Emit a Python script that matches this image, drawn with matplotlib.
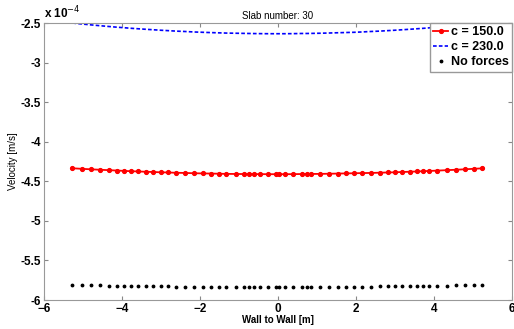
import matplotlib.pyplot as plt
from matplotlib.ticker import FuncFormatter

plt.rcParams["font.family"] = ["Liberation Sans", "DejaVu Sans"]

# positions across the slab (m)
x_pos = [-5.27, -5.03, -4.80, -4.56, -4.33, -4.12, -3.95, -3.78, -3.60, -3.39,
         -3.20, -3.01, -2.82, -2.62, -2.38, -2.15, -1.93, -1.71, -1.51, -1.32,
         -1.08, -0.86, -0.74, -0.62, -0.46, -0.25, -0.05, 0.03, 0.18, 0.40,
         0.61, 0.74, 0.86, 1.08, 1.32, 1.53, 1.74, 1.96, 2.15, 2.38,
         2.62, 2.82, 3.00, 3.19, 3.38, 3.58, 3.73, 3.88, 4.07, 4.33,
         4.56, 4.79, 5.02, 5.24]

# velocities in units of 1e-4 m/s
v_c150 = [-4.335, -4.342, -4.348, -4.354, -4.359, -4.364, -4.368, -4.372, -4.375, -4.379,
          -4.382, -4.386, -4.388, -4.392, -4.394, -4.398, -4.400, -4.402, -4.404, -4.406,
          -4.407, -4.408, -4.408, -4.409, -4.409, -4.410, -4.410, -4.410, -4.410, -4.409,
          -4.408, -4.408, -4.407, -4.406, -4.404, -4.402, -4.400, -4.398, -4.396, -4.394,
          -4.391, -4.388, -4.386, -4.382, -4.379, -4.375, -4.372, -4.369, -4.365, -4.359,
          -4.354, -4.348, -4.342, -4.336]

v_c230 = [-2.500, -2.512, -2.523, -2.534, -2.544, -2.553, -2.559, -2.566, -2.572, -2.579,
          -2.585, -2.591, -2.596, -2.602, -2.607, -2.613, -2.617, -2.621, -2.624, -2.627,
          -2.629, -2.631, -2.632, -2.633, -2.634, -2.635, -2.635, -2.635, -2.635, -2.634,
          -2.632, -2.632, -2.631, -2.629, -2.626, -2.623, -2.620, -2.617, -2.613, -2.607,
          -2.602, -2.596, -2.591, -2.585, -2.579, -2.572, -2.567, -2.561, -2.554, -2.544,
          -2.534, -2.524, -2.513, -2.503]

v_noforce = [-5.810, -5.812, -5.814, -5.816, -5.818, -5.820, -5.821, -5.822, -5.823, -5.824,
             -5.826, -5.827, -5.828, -5.829, -5.830, -5.831, -5.832, -5.833, -5.833, -5.834,
             -5.834, -5.835, -5.835, -5.835, -5.835, -5.835, -5.835, -5.835, -5.835, -5.835,
             -5.835, -5.835, -5.835, -5.834, -5.834, -5.833, -5.832, -5.831, -5.830, -5.829,
             -5.828, -5.827, -5.826, -5.825, -5.824, -5.823, -5.822, -5.821, -5.820, -5.818,
             -5.816, -5.814, -5.812, -5.810]

scale = 1e-4

fig = plt.figure(figsize=(5.14, 3.29), dpi=100)
ax = fig.add_axes([0.0856, 0.088, 0.910, 0.842])

ax.plot(x_pos, [v * scale for v in v_c150], color="red", lw=1.3,
        marker=".", ms=5.5, label="c = 150.0")
ax.plot(x_pos, [v * scale for v in v_c230], color="blue", lw=1.2,
        ls="--", dashes=(2.2, 1.3), label="c = 230.0")
ax.plot(x_pos, [v * scale for v in v_noforce], color="black", ls="none",
        marker=".", ms=3.5, label="No forces")

ax.set_xlim(-6, 6)
ax.set_ylim(-6e-4, -2.5e-4)
ax.set_xticks([-6, -4, -2, 0, 2, 4, 6])
ax.set_yticks([v * scale for v in [-6, -5.5, -5, -4.5, -4, -3.5, -3, -2.5]])
ax.yaxis.set_major_formatter(FuncFormatter(lambda y, p: "%g" % round(y / scale, 2)))

ax.tick_params(direction="in", top=True, right=True, length=3,
               labelsize=8.5, colors="#888888", labelcolor="black", pad=2)
for lab in ax.get_xticklabels() + ax.get_yticklabels():
    lab.set_fontweight("bold")
for s in ax.spines.values():
    s.set_color("#999999")

ax.text(0.0, 1.005, r"x 10$^{-4}$", transform=ax.transAxes, fontsize=8.5,
        fontweight="bold", ha="left", va="bottom")

ax.set_title("Slab number: 30", fontsize=7, pad=3)
ax.set_xlabel("Wall to Wall [m]", fontsize=7, fontweight="bold", labelpad=0)
ax.set_ylabel("Velocity [m/s]", fontsize=7, labelpad=2)

leg = ax.legend(loc="upper right", fancybox=False, framealpha=1,
                edgecolor="#999999", borderpad=0.25, labelspacing=0.25,
                handlelength=1.2, handletextpad=0.2, borderaxespad=0.0,
                prop={"weight": "bold", "size": 9})

fig.savefig("out.png", dpi=100)
